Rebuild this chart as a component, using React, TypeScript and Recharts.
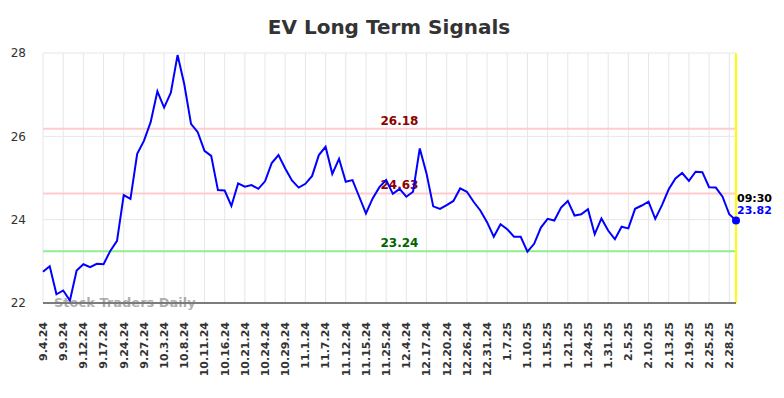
import React from 'react';
import {
  LineChart,
  Line,
  XAxis,
  YAxis,
  CartesianGrid,
  ReferenceLine,
  ReferenceDot,
} from 'recharts';

const dates = [
  '9.4.24', '9.5.24', '9.6.24', '9.9.24', '9.10.24', '9.11.24', '9.12.24', '9.13.24', '9.16.24',
  '9.17.24', '9.19.24', '9.20.24', '9.24.24', '9.25.24', '9.26.24', '9.27.24', '9.30.24', '10.1.24',
  '10.3.24', '10.4.24', '10.7.24', '10.8.24', '10.9.24', '10.10.24', '10.11.24', '10.14.24', '10.15.24',
  '10.16.24', '10.17.24', '10.18.24', '10.21.24', '10.22.24', '10.23.24', '10.24.24', '10.25.24', '10.28.24',
  '10.29.24', '10.30.24', '10.31.24', '11.1.24', '11.4.24', '11.5.24', '11.7.24', '11.8.24', '11.11.24',
  '11.12.24', '11.13.24', '11.14.24', '11.15.24', '11.18.24', '11.20.24', '11.25.24', '11.26.24', '11.29.24',
  '12.4.24', '12.10.24', '12.13.24', '12.17.24', '12.18.24', '12.19.24', '12.20.24', '12.23.24', '12.24.24',
  '12.26.24', '12.27.24', '12.30.24', '12.31.24', '1.2.25', '1.3.25', '1.7.25', '1.8.25', '1.9.25',
  '1.10.25', '1.13.25', '1.14.25', '1.15.25', '1.16.25', '1.17.25', '1.21.25', '1.22.25', '1.23.25',
  '1.24.25', '1.27.25', '1.28.25', '1.31.25', '2.3.25', '2.4.25', '2.5.25', '2.6.25', '2.7.25',
  '2.10.25', '2.11.25', '2.12.25', '2.13.25', '2.14.25', '2.18.25', '2.19.25', '2.20.25', '2.21.25',
  '2.25.25', '2.26.25', '2.27.25', '2.28.25', '3.3.25',
];

const prices = [
  22.75, 22.88, 22.21, 22.3, 22.06, 22.78, 22.93, 22.86, 22.94,
  22.93, 23.25, 23.49, 24.59, 24.5, 25.58, 25.89, 26.34, 27.08,
  26.69, 27.05, 27.95, 27.25, 26.3, 26.1, 25.65, 25.53, 24.71,
  24.7, 24.33, 24.87, 24.79, 24.83, 24.74, 24.92, 25.36, 25.55,
  25.23, 24.94, 24.77, 24.86, 25.05, 25.55, 25.75, 25.1, 25.46,
  24.91, 24.95, 24.55, 24.15, 24.51, 24.78, 24.95, 24.62, 24.74,
  24.55, 24.67, 25.71, 25.11, 24.32, 24.26, 24.35, 24.45, 24.75,
  24.67, 24.43, 24.22, 23.94, 23.59, 23.89, 23.77, 23.59, 23.59,
  23.23, 23.42, 23.81, 24.02, 23.98, 24.29, 24.45, 24.1, 24.13,
  24.25, 23.65, 24.03, 23.74, 23.53, 23.83, 23.79, 24.26, 24.34,
  24.43, 24.02, 24.35, 24.73, 24.99, 25.12, 24.93, 25.15, 25.14,
  24.78, 24.77, 24.55, 24.13, 23.98,
];

const yTicks = [22, 24, 26, 28];
const resistanceLevels = [26.18, 24.63];
const supportLevel = 23.24;
const lastTime = '09:30';
const lastPriceLabel = '23.82';

const data = dates.map((date, i) => ({ date, price: prices[i] }));
const tickDates = dates.filter((_, i) => i % 3 === 0);
const lastDate = dates[dates.length - 1];
const lastPrice = prices[prices.length - 1];

const FONT = 'DejaVu Sans';

function DateTick({ x, y, payload }: any) {
  return (
    <g transform={`translate(${x},${y})`}>
      <text
        transform="rotate(-90)"
        x={-11}
        dy="0.35em"
        textAnchor="end"
        fontSize={11}
        fontWeight="bold"
        fill="#333"
        fontFamily={FONT}
      >
        {payload.value}
      </text>
    </g>
  );
}

function levelLabel(text: string, color: string) {
  return (props: any) => {
    const vb = props.viewBox || {};
    return (
      <text
        x={vb.x + vb.width / 2 + 10}
        y={vb.y - 4}
        textAnchor="middle"
        fontSize={12}
        fontWeight="bold"
        fill={color}
        fontFamily={FONT}
      >
        {text}
      </text>
    );
  };
}

function LastLabel(props: any) {
  const vb = props.viewBox || {};
  const cx = vb.x + vb.width / 2;
  const cy = vb.y + vb.height / 2;
  return (
    <g fontFamily={FONT} fontSize={11} fontWeight="bold">
      <text x={cx + 1} y={cy - 19} fill="#000">{lastTime}</text>
      <text x={cx + 1} y={cy - 7} fill="#0000ff">{lastPriceLabel}</text>
    </g>
  );
}

export default function App() {
  return (
    <div style={{ position: 'absolute', left: 0, top: 0, width: 784, height: 398, background: '#fff' }}>
      <div
        style={{
          position: 'absolute',
          left: 0,
          width: 778,
          top: 15,
          textAlign: 'center',
          fontFamily: FONT,
          fontWeight: 'bold',
          fontSize: 20,
          lineHeight: '24px',
          color: '#333',
        }}
      >
        EV Long Term Signals
      </div>
      <LineChart
        width={784}
        height={398}
        data={data}
        margin={{ top: 53, right: 48, bottom: 0, left: 0 }}
      >
        <CartesianGrid stroke="#e6e6e6" />
        <XAxis
          dataKey="date"
          ticks={tickDates}
          interval={0}
          height={95}
          tickLine={false}
          axisLine={{ stroke: '#555', strokeWidth: 1.5 }}
          tick={<DateTick />}
        />
        <YAxis
          domain={[22, 28]}
          ticks={yTicks}
          width={43}
          axisLine={false}
          tickLine={false}
          tick={{ fontSize: 12, fill: '#333', fontFamily: FONT, dx: -9 }}
        />
        <ReferenceLine
          y={resistanceLevels[0]}
          stroke="#ffcccc"
          strokeWidth={2}
          label={levelLabel(resistanceLevels[0].toFixed(2), '#8b0000')}
        />
        <ReferenceLine
          y={resistanceLevels[1]}
          stroke="#ffcccc"
          strokeWidth={2}
          label={levelLabel(resistanceLevels[1].toFixed(2), '#8b0000')}
        />
        <ReferenceLine
          y={supportLevel}
          stroke="#90ee90"
          strokeWidth={2}
          label={levelLabel(supportLevel.toFixed(2), '#006400')}
        />
        <ReferenceLine x={lastDate} stroke="#ffff00" strokeWidth={2} />
        <Line
          type="linear"
          dataKey="price"
          stroke="#0000ff"
          strokeWidth={2}
          dot={false}
          isAnimationActive={false}
        />
        <ReferenceDot
          x={lastDate}
          y={lastPrice}
          r={4}
          fill="#0000ff"
          stroke="none"
          label={<LastLabel />}
        />
      </LineChart>
      <div
        style={{
          position: 'absolute',
          left: 54,
          top: 295,
          fontFamily: FONT,
          fontWeight: 'bold',
          fontSize: 13,
          color: 'rgba(120,120,120,0.6)',
        }}
      >
        Stock Traders Daily
      </div>
    </div>
  );
}
